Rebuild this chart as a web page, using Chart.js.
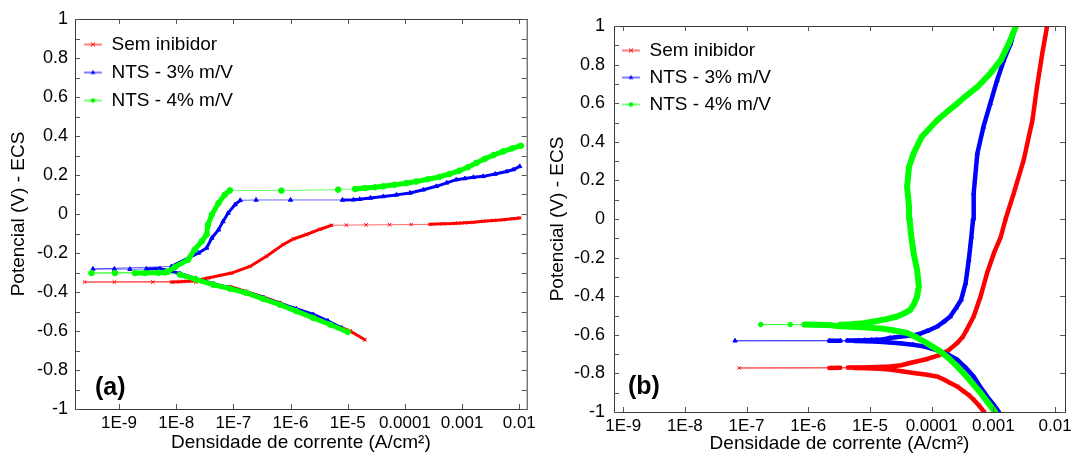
<!DOCTYPE html>
<html>
<head>
<meta charset="utf-8">
<script src="https://cdn.jsdelivr.net/npm/chart.js@4.4.1/dist/chart.umd.min.js"></script>
<style>
  body { margin: 0; background: #fff; }
  canvas { position: absolute; top: 0; }
  #chartA { left: 0; }
  #chartB { left: 540px; }
</style>
</head>
<body>
<canvas id="chartA" width="540" height="457"></canvas>
<canvas id="chartB" width="537" height="457"></canvas>
<script>
// axis ticks (both panels)
const xTickValues = [1e-9, 1e-8, 1e-7, 1e-6, 1e-5, 1e-4, 1e-3, 1e-2];
const xTickLabels = ['1E-9', '1E-8', '1E-7', '1E-6', '1E-5', '0.0001', '0.001', '0.01'];
const yTickValues = [-1, -0.8, -0.6, -0.4, -0.2, 0, 0.2, 0.4, 0.6, 0.8, 1];
const yTickLabels = ['-1', '-0.8', '-0.6', '-0.4', '-0.2', '0', '0.2', '0.4', '0.6', '0.8', '1'];

const seriesNames = ['Sem inibidor', 'NTS - 3% m/V', 'NTS - 4% m/V'];
const xTitle = 'Densidade de corrente (A/cm²)';
const yTitle = 'Potencial (V) - ECS';

// panel (a) - current density (A/cm2) and potential (V)
const semA_i = [2.0e-5, 1.1e-5, 4.9e-6, 2.5e-6, 1.29e-6, 6.5e-7, 3.3e-7, 1.7e-7, 8.7e-8, 4.5e-8, 2.2e-8, 1.17e-8,
  8.3e-9, 3.9e-9, 8.3e-10, 2.5e-10, 1.3e-8, 1.8e-8, 2.5e-8, 3.6e-8, 9.3e-8, 1.95e-7, 3.8e-7, 7.4e-7, 1.12e-6, 1.9e-6,
  3.3e-6, 5.2e-6, 9.5e-6, 2.1e-5, 5.4e-5, 1.29e-4, 2.75e-4, 4.6e-4, 6.6e-4, 8.5e-4, 1.12e-3, 1.58e-3, 2.34e-3,
  3.55e-3, 5.25e-3, 7.6e-3, 1.02e-2];
const semA_E = [-0.645, -0.600, -0.560, -0.525, -0.490, -0.456, -0.425, -0.398, -0.372, -0.358, -0.350, -0.347,
  -0.349, -0.349, -0.349, -0.349, -0.346, -0.343, -0.338, -0.328, -0.303, -0.269, -0.217, -0.157, -0.128, -0.105,
  -0.078, -0.058, -0.057, -0.056, -0.055, -0.054, -0.053, -0.050, -0.049, -0.047, -0.045, -0.042, -0.037,
  -0.033, -0.029, -0.024, -0.020];

const nts3A_i = [7.9e-6, 4.5e-6, 2.5e-6, 1.26e-6, 6.5e-7, 3.3e-7, 1.7e-7, 8.7e-8, 4.5e-8, 2.2e-8, 1.17e-8, 7.9e-9,
  5.2e-9, 3.0e-9, 1.55e-9, 8.3e-10, 3.5e-10, 8.3e-9, 1.62e-8, 2.45e-8, 3.4e-8, 4.2e-8, 5.5e-8, 6.6e-8, 8.1e-8,
  1.07e-7, 1.32e-7, 2.5e-7, 1.0e-6, 8.1e-6, 1.26e-5, 1.62e-5, 2.5e-5, 4.2e-5, 7.1e-5, 1.23e-4, 2.1e-4, 3.55e-4,
  5.4e-4, 7.9e-4, 1.12e-3, 1.58e-3, 2.34e-3, 3.8e-3, 6.0e-3, 7.9e-3, 1.02e-2];
const nts3A_E = [-0.585, -0.548, -0.515, -0.486, -0.458, -0.428, -0.400, -0.378, -0.357, -0.330, -0.305, -0.292,
  -0.280, -0.282, -0.283, -0.282, -0.282, -0.269, -0.226, -0.200, -0.174, -0.123, -0.081, -0.038, 0.005,
  0.048, 0.070, 0.072, 0.072, 0.072, 0.073, 0.076, 0.082, 0.090, 0.098, 0.108, 0.124, 0.142,
  0.160, 0.176, 0.182, 0.188, 0.193, 0.205, 0.218, 0.228, 0.244];

const nts4A_i = [1.0e-5, 5.0e-6, 2.5e-6, 1.26e-6, 6.5e-7, 3.3e-7, 1.7e-7, 8.7e-8, 4.5e-8, 2.2e-8, 1.17e-8,
  6.3e-9, 4.9e-9, 2.8e-9, 1.9e-9, 8.5e-10, 3.3e-10, 7.1e-9, 9.5e-9, 1.62e-8, 2.1e-8, 2.8e-8, 3.4e-8, 3.6e-8,
  4.2e-8, 5.5e-8, 7.1e-8, 8.7e-8, 6.9e-7, 6.8e-6, 1.35e-5, 2.0e-5, 3.0e-5, 4.2e-5, 6.6e-5, 1.05e-4, 1.58e-4,
  2.5e-4, 4.0e-4, 6.0e-4, 8.9e-4, 1.26e-3, 1.78e-3, 2.5e-3, 3.55e-3, 5.25e-3, 7.6e-3, 1.07e-2];
const nts4A_E = [-0.605, -0.568, -0.533, -0.498, -0.465, -0.435, -0.405, -0.383, -0.363, -0.335, -0.311,
  -0.300, -0.301, -0.303, -0.303, -0.303, -0.303, -0.296, -0.272, -0.234, -0.183, -0.140, -0.106, -0.055,
  -0.004, 0.056, 0.099, 0.121, 0.120, 0.125, 0.128, 0.133, 0.137, 0.142, 0.150, 0.158, 0.167,
  0.178, 0.190, 0.205, 0.222, 0.240, 0.262, 0.283, 0.302, 0.321, 0.337, 0.350];

// panel (b)
const semB_i = [7.1e-4, 5.8e-4, 4.8e-4, 4.0e-4, 3.3e-4, 2.6e-4, 2.0e-4, 1.58e-4, 1.23e-4, 7.9e-5, 5.1e-5, 3.3e-5,
  2.1e-5, 1.41e-5, 8.9e-6, 5.6e-6, 3.3e-6, 2.2e-6, 7.6e-8, 4.4e-6, 6.9e-6, 1.0e-5, 1.29e-5, 1.66e-5, 2.0e-5,
  3.2e-5, 5.0e-5, 7.9e-5, 1.26e-4, 1.78e-4, 2.6e-4, 3.2e-4, 3.7e-4, 4.8e-4, 6.2e-4, 7.9e-4, 1.02e-3, 1.32e-3,
  1.58e-3, 2.14e-3, 3.1e-3, 4.3e-3, 5.1e-3, 6.2e-3, 7.4e-3];
const semB_E = [-1.0, -0.965, -0.936, -0.912, -0.893, -0.868, -0.850, -0.832, -0.816, -0.806, -0.798, -0.789,
  -0.780, -0.776, -0.773, -0.772, -0.771, -0.772, -0.772, -0.770, -0.769, -0.768, -0.767, -0.766, -0.765,
  -0.758, -0.742, -0.728, -0.708, -0.686, -0.643, -0.610, -0.574, -0.505, -0.402, -0.281, -0.177, -0.092,
  0.0, 0.133, 0.305, 0.512, 0.684, 0.857, 0.995];

const nts3B_i = [1.23e-3, 1.0e-3, 7.9e-4, 6.3e-4, 4.8e-4, 3.55e-4, 2.6e-4, 1.9e-4, 1.38e-4, 1.0e-4, 7.4e-5, 5.0e-5,
  3.3e-5, 2.1e-5, 1.41e-5, 8.9e-6, 5.6e-6, 3.3e-6, 2.2e-6, 6.5e-8, 4.3e-6, 6.5e-6, 8.3e-6, 1.07e-5, 1.29e-5,
  1.55e-5, 2.1e-5, 3.5e-5, 5.8e-5, 8.5e-5, 1.23e-4, 1.58e-4, 2.0e-4, 2.5e-4, 3.0e-4, 3.55e-4, 4.0e-4, 4.4e-4,
  4.7e-4, 4.8e-4, 5.5e-4, 6.9e-4, 8.9e-4, 1.15e-3, 1.48e-3, 1.91e-3, 2.2e-3];
const nts3B_E = [-1.0, -0.96, -0.919, -0.875, -0.816, -0.770, -0.729, -0.705, -0.686, -0.672, -0.660, -0.652,
  -0.645, -0.640, -0.636, -0.634, -0.632, -0.631, -0.631, -0.631, -0.630, -0.629, -0.628, -0.627, -0.626,
  -0.625, -0.617, -0.608, -0.600, -0.580, -0.557, -0.532, -0.505, -0.460, -0.419, -0.333, -0.212, -0.092,
  0.0, 0.133, 0.340, 0.477, 0.598, 0.719, 0.823, 0.909, 0.978];

const nts4B_i = [1.07e-3, 7.9e-4, 6.2e-4, 4.8e-4, 3.55e-4, 2.6e-4, 1.9e-4, 1.38e-4, 8.3e-5, 5.6e-5, 4.0e-5, 2.5e-5,
  1.58e-5, 1.15e-5, 7.9e-6, 5.0e-6, 3.3e-6, 2.7e-6, 2.3e-6, 1.86e-6, 1.55e-6, 1.26e-6, 8.7e-7, 5.1e-7, 1.7e-7,
  3.3e-6, 5.0e-6, 7.9e-6, 1.15e-5, 1.78e-5, 2.75e-5, 3.55e-5, 4.5e-5, 5.2e-5, 5.8e-5, 6.2e-5, 5.8e-5, 5.1e-5,
  4.6e-5, 4.4e-5, 4.3e-5, 4.0e-5, 4.3e-5, 5.1e-5, 6.9e-5, 1.23e-4, 1.78e-4, 2.6e-4, 3.7e-4, 5.5e-4, 8.9e-4,
  1.32e-3, 1.78e-3, 2.3e-3];
const nts4B_E = [-1.0, -0.945, -0.900, -0.859, -0.810, -0.764, -0.722, -0.686, -0.643, -0.612, -0.591, -0.578,
  -0.568, -0.565, -0.561, -0.558, -0.556, -0.553, -0.550, -0.549, -0.548, -0.548, -0.547, -0.547, -0.547,
  -0.548, -0.545, -0.540, -0.531, -0.520, -0.505, -0.490, -0.471, -0.440, -0.402, -0.350, -0.264, -0.177,
  -0.074, 0.0, 0.064, 0.167, 0.270, 0.340, 0.426, 0.512, 0.556, 0.598, 0.641, 0.684, 0.754, 0.823, 0.909, 0.995];

const RED = [255, 0, 0], BLUE = [0, 0, 255], GREEN = [0, 255, 0];

Chart.defaults.font.family = '"Liberation Sans", Arial, sans-serif';
Chart.defaults.font.size = 17;
Chart.defaults.color = '#000';

const rgb = (c, a) => a === undefined ? `rgb(${c.join(',')})` : `rgba(${c.join(',')},${a})`;

// thin line between sparse markers, thick where the points crowd together
function isThin(c) {
  const dx = c.p1.x - c.p0.x, dy = c.p1.y - c.p0.y;
  return Math.hypot(dx, dy) > 14 && Math.abs(dy) < 3.5;
}

function series(k, iArr, eArr, color, style, radius, thick) {
  return {
    label: seriesNames[k],
    order: 3 - k,
    data: iArr.map((v, n) => ({ x: v, y: eArr[n] })),
    showLine: true,
    clip: 0,
    borderColor: rgb(color),
    backgroundColor: rgb(color),
    pointBackgroundColor: rgb(color),
    pointBorderColor: rgb(color),
    pointStyle: style,
    pointRadius: radius,
    pointBorderWidth: 1,
    borderWidth: thick,
    borderJoinStyle: 'round',
    borderCapStyle: 'round',
    segment: {
      borderWidth: c => isThin(c) ? 1 : thick,
      borderColor: c => isThin(c) ? rgb(color, 0.6) : rgb(color)
    }
  };
}

function legendIcon(color, style) {
  const c = document.createElement('canvas');
  c.width = 18; c.height = 10;
  const g = c.getContext('2d');
  g.strokeStyle = g.fillStyle = rgb(color);
  g.lineWidth = 1;
  g.beginPath(); g.moveTo(0, 5); g.lineTo(18, 5); g.stroke();
  g.beginPath();
  if (style === 'crossRot') {
    g.moveTo(7, 3); g.lineTo(11, 7); g.moveTo(11, 3); g.lineTo(7, 7); g.stroke();
  } else if (style === 'triangle') {
    g.moveTo(9, 2.5); g.lineTo(11.5, 6.5); g.lineTo(6.5, 6.5); g.closePath(); g.fill();
  } else {
    g.arc(9, 5, 2.3, 0, Math.PI * 2); g.fill();
  }
  return c;
}
const icons = [legendIcon(RED, 'crossRot'), legendIcon(BLUE, 'triangle'), legendIcon(GREEN, 'circle')];

const framePlugin = {
  id: 'frame',
  afterDraw(chart, args, opts) {
    const { ctx, chartArea: a, scales: { x, y } } = chart;
    ctx.save();
    ctx.strokeStyle = '#3a3a3a';
    ctx.lineWidth = 1;
    ctx.strokeRect(a.left + 0.5, a.top + 0.5, a.right - a.left, a.bottom - a.top);
    ctx.strokeStyle = '#555';
    ctx.beginPath();
    xTickValues.forEach(v => {
      const px = Math.round(x.getPixelForValue(v)) + 0.5;
      ctx.moveTo(px, a.bottom); ctx.lineTo(px, a.bottom - 5);
      ctx.moveTo(px, a.top); ctx.lineTo(px, a.top + 5);
    });
    for (let k = -10; k <= 10; k++) {
      const py = Math.round(y.getPixelForValue(k / 10)) + 0.5;
      ctx.moveTo(a.left, py); ctx.lineTo(a.left + 5, py);
      if (k % opts.rightStep === 0) { ctx.moveTo(a.right, py); ctx.lineTo(a.right - 5, py); }
    }
    ctx.stroke();
    ctx.font = 'bold 25px "Liberation Sans", Arial, sans-serif';
    ctx.fillStyle = '#000';
    ctx.textBaseline = 'middle';
    ctx.fillText(opts.tag, a.left + opts.tagDx, opts.tagY);
    ctx.restore();
  }
};

function makeChart(id, p) {
  new Chart(document.getElementById(id), {
    type: 'scatter',
    data: {
      datasets: [
        series(0, p.sem[0], p.sem[1], RED, 'crossRot', 2.5, p.w[0]),
        series(1, p.n3[0], p.n3[1], BLUE, 'triangle', 2.5, p.w[1]),
        series(2, p.n4[0], p.n4[1], GREEN, 'circle', p.greenR, p.w[2])
      ]
    },
    options: {
      responsive: false,
      animation: false,
      layout: { padding: { top: p.top, right: p.right, left: 0, bottom: 0 } },
      scales: {
        x: {
          type: 'logarithmic', min: p.xMin, max: p.xMax, bounds: 'data',
          afterBuildTicks: s => { s.ticks = xTickValues.map(v => ({ value: v })); },
          afterFit: s => { s.height = p.xAxisH; },
          grid: { display: false, drawTicks: false },
          border: { display: false },
          ticks: { autoSkip: false, maxRotation: 0, minRotation: 0, padding: 4,
            callback: (v, i) => xTickLabels[i] },
          title: { display: true, text: xTitle, font: { size: 19 },
            padding: { top: 0, bottom: p.xTitlePad } }
        },
        y: {
          type: 'linear', min: -1, max: 1, bounds: 'data',
          afterBuildTicks: s => { s.ticks = yTickValues.map(v => ({ value: v })); },
          afterFit: s => { s.width = p.yAxisW; },
          grid: { display: false, drawTicks: false },
          border: { display: false },
          ticks: { padding: p.yTickPad, font: { size: 18 }, callback: (v, i) => yTickLabels[i] },
          title: { display: true, text: yTitle, font: { size: 19 },
            padding: { top: p.yTitlePad, bottom: 0 } }
        }
      },
      plugins: {
        tooltip: { enabled: false },
        legend: {
          position: 'chartArea', align: 'start',
          title: { display: true, text: '', padding: { top: p.legendGap, bottom: 0 }, font: { size: 5 } },
          labels: {
            usePointStyle: true, pointStyleWidth: 18, padding: p.legendPad,
            font: { size: 19 }, color: '#000',
            generateLabels: chart => chart.data.datasets.map((d, k) => ({
              text: d.label, pointStyle: icons[k], fillStyle: d.borderColor,
              strokeStyle: d.borderColor, lineWidth: 0, hidden: false, datasetIndex: k
            }))
          }
        },
        frame: p.frame
      }
    },
    plugins: [framePlugin]
  });
}

makeChart('chartA', {
  sem: [semA_i, semA_E], n3: [nts3A_i, nts3A_E], n4: [nts4A_i, nts4A_E],
  w: [3, 3, 5], greenR: 2.8,
  xMin: 1.7e-10, xMax: 1.35e-2,
  top: 19, right: 13, xAxisH: 48, yAxisW: 75,
  xTitlePad: 3, yTitlePad: 7, yTickPad: 7,
  legendGap: 20, legendPad: 9,
  frame: { tag: '(a)', tagDx: 20, tagY: 388, rightStep: 1 }
});

makeChart('chartB', {
  sem: [semB_i, semB_E], n3: [nts3B_i, nts3B_E], n4: [nts4B_i, nts4B_E],
  w: [4.5, 4.5, 6], greenR: 2.3,
  xMin: 7.1e-10, xMax: 1.45e-2,
  top: 26, right: 12, xAxisH: 45, yAxisW: 74,
  xTitlePad: 2, yTitlePad: 6, yTickPad: 9,
  legendGap: 27, legendPad: 8,
  frame: { tag: '(b)', tagDx: 14, tagY: 387, rightStep: 2 }
});
</script>
</body>
</html>
